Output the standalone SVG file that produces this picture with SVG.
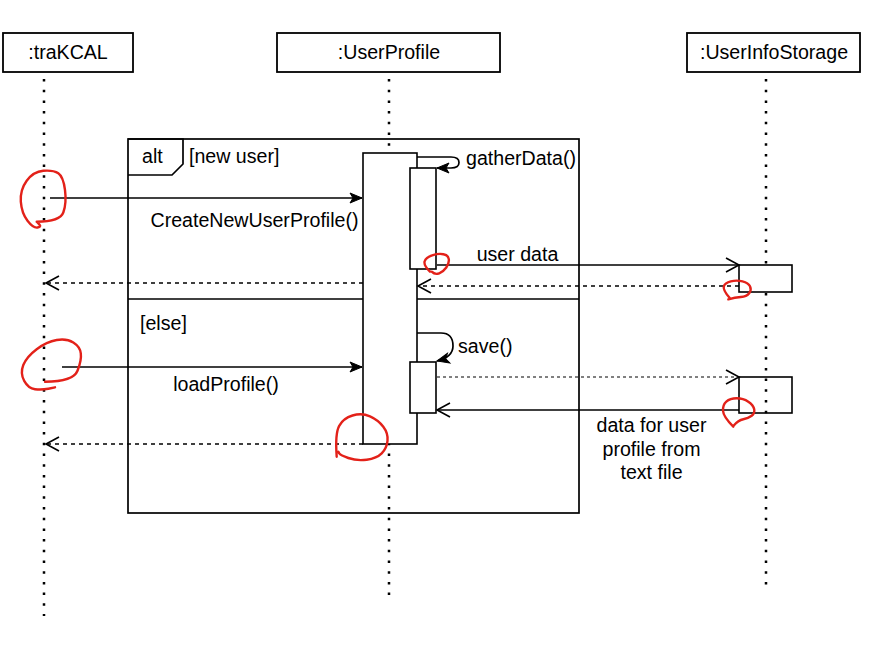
<svg xmlns="http://www.w3.org/2000/svg" width="879" height="655" viewBox="0 0 879 655">
  <style>
    .box { fill: #ffffff; stroke: #000000; stroke-width: 1.8; }
    .act { fill: #ffffff; stroke: #000000; stroke-width: 1.6; }
    .life { fill: none; stroke: #000000; stroke-width: 2.5; stroke-dasharray: 2.5 8.2; }
    .frame { fill: none; stroke: #000000; stroke-width: 1.7; }
    .msg { fill: none; stroke: #000000; stroke-width: 1.7; }
    .ret { fill: none; stroke: #000000; stroke-width: 1.7; stroke-dasharray: 4 4; }
    .thin { fill: none; stroke: #000000; stroke-width: 1; stroke-dasharray: 3 3; }
    .mark { fill: none; stroke: #e32119; stroke-width: 2.4; stroke-linecap: round; stroke-linejoin: round; }
    text { font-family: "Liberation Sans", Arial, Helvetica, sans-serif; font-size: 19.6px; fill: #000000; }
    .c { text-anchor: middle; }
  </style>
  <defs>
    <marker id="filled" markerUnits="userSpaceOnUse" markerWidth="14" markerHeight="12" refX="12" refY="6" orient="auto" overflow="visible">
      <path d="M0,1 L12,6 L0,11 L3,6 Z" fill="#000000" stroke="#000000" stroke-width="1"/>
    </marker>
    <marker id="open" markerUnits="userSpaceOnUse" markerWidth="14" markerHeight="16" refX="13" refY="7" orient="auto" overflow="visible">
      <path d="M0,0 L13,7 L0,14" fill="none" stroke="#000000" stroke-width="1.6" stroke-dasharray="none"/>
    </marker>
  </defs>

  <!-- lifelines -->
  <g id="lifelines">
    <line class="life" x1="44" y1="79" x2="44" y2="616"/>
    <line class="life" x1="389" y1="79" x2="389" y2="602"/>
    <line class="life" x1="766" y1="79" x2="766" y2="586"/>
  </g>

  <!-- participants -->
  <g id="traKCAL">
    <rect class="box" x="3" y="33" width="130" height="39"/>
    <text class="c" x="68" y="59">:traKCAL</text>
  </g>
  <g id="UserProfile">
    <rect class="box" x="277" y="33" width="223" height="39"/>
    <text class="c" x="389" y="59">:UserProfile</text>
  </g>
  <g id="UserInfoStorage">
    <rect class="box" x="687" y="33" width="173" height="39"/>
    <text class="c" x="774" y="59">:UserInfoStorage</text>
  </g>

  <!-- alt combined fragment -->
  <g id="alt-frame">
    <rect class="frame" x="128" y="139" width="451" height="374"/>
    <path class="frame" d="M128,139 H183 V164 L172,175 H128"/>
    <line class="frame" x1="128" y1="299" x2="579" y2="299"/>
    <text x="142" y="163">alt</text>
    <text x="189" y="163">[new user]</text>
    <text x="140" y="330">[else]</text>
  </g>

  <!-- activations -->
  <g id="UserProfile-activation">
    <rect class="act" x="363" y="153" width="54" height="291"/>
  </g>
  <g id="gatherData-activation">
    <rect class="act" x="410" y="168" width="26" height="101"/>
  </g>
  <g id="save-activation">
    <rect class="act" x="410" y="362" width="26" height="51"/>
  </g>
  <g id="storage-activation-1">
    <rect class="act" x="739" y="265" width="53" height="27"/>
  </g>
  <g id="storage-activation-2">
    <rect class="act" x="739" y="377" width="53" height="36" style="fill:none"/>
  </g>

  <!-- messages -->
  <g id="connectors">
    <path class="msg" d="M50,198 H362" marker-end="url(#filled)"/>
    <path class="msg" d="M417,157 H451 Q459,157 459,162.5 Q459,168 451,168 H437" marker-end="url(#filled)"/>
    <path class="msg" d="M437,265 H739" marker-end="url(#open)"/>
    <path class="ret" d="M739,286 H418" marker-end="url(#open)"/>
    <path class="ret" d="M363,283 H46" marker-end="url(#open)"/>
    <path class="msg" d="M417,333 H441 Q453,333 453,346 Q453,357 437,361" marker-end="url(#filled)"/>
    <path class="msg" d="M62,367 H362" marker-end="url(#filled)"/>
    <path class="thin" d="M437,377 H739" marker-end="url(#open)"/>
    <path class="msg" d="M739,410 H437" marker-end="url(#open)"/>
    <path class="ret" d="M363,444 H46" marker-end="url(#open)"/>
  </g>

  <!-- message labels -->
  <g id="labels">
    <text class="c" x="254.5" y="227">CreateNewUserProfile()</text>
    <text x="466" y="165">gatherData()</text>
    <text class="c" x="517.5" y="261">user data</text>
    <text x="458" y="353">save()</text>
    <text class="c" x="226" y="391">loadProfile()</text>
    <text class="c" x="651.5" y="432">data for user</text>
    <text class="c" x="651.5" y="455.5">profile from</text>
    <text class="c" x="651.5" y="479">text file</text>
  </g>

  <!-- hand-drawn red markings -->
  <g id="markings">
    <path class="mark" d="M36.7,221.7 Q60,221.7 63.3,212.5 Q66.7,203.3 65,190 Q63.3,176.7 58.3,173.3 Q53.3,170 43.3,170.8 Q33.3,171.7 26.7,180.8 Q20,190 20.8,201.7 Q21.7,213.3 27.5,220.8 Q33.3,228.3 37.5,227.5 Q41.7,226.7 39.3,224.3 L37,222"/>
    <path class="mark" d="M45,381.7 Q73.3,381.7 77.5,370.8 Q81.7,360 80.8,353.3 Q80,346.7 73.3,342.5 Q66.7,338.3 56.7,340 Q46.7,341.7 36.7,349.2 Q26.7,356.7 23.3,365 Q20,373.3 24.2,380.8 Q28.3,388.3 35,389.2 Q41.7,390 48.3,388.7 L55,387.3"/>
    <path class="mark" d="M336.7,456.7 Q335,433.3 339.2,425.8 Q343.3,418.3 352.5,415.5 Q361.7,412.7 370,416.3 Q378.3,420 383.3,426.7 Q388.3,433.3 387.5,440.8 Q386.7,448.3 381.7,453.3 Q376.7,458.3 366.7,459.7 Q356.7,461 348.3,458 Q340,455 339.2,453.3 L338.3,451.7"/>
    <path class="mark" d="M430,271.7 Q423.3,265 424.7,261.2 Q426,257.3 432.2,255.3 Q438.3,253.3 443.3,254.2 Q448.3,255 448.8,259.2 Q449.3,263.3 446.3,267.5 Q443.3,271.7 439.2,273.3 Q435,275 431.7,271.7"/>
    <path class="mark" d="M730,298.3 Q722.7,290 723.8,286.3 Q725,282.7 730.8,281.3 Q736.7,280 742.5,281.3 Q748.3,282.7 750,286.3 Q751.7,290 749.2,293.3 Q746.7,296.7 740.8,297 Q735,297.3 728.3,299.3"/>
    <path class="mark" d="M733.3,426.7 Q723.3,416.7 723,410.8 Q722.7,405 726.3,401.7 Q730,398.3 736.7,398.3 Q743.3,398.3 748.3,401.7 Q753.3,405 754.2,409.2 Q755,413.3 751.7,415.8 Q748.3,418.3 743.3,419.2 Q738.3,420 733.3,426"/>
  </g>
</svg>
